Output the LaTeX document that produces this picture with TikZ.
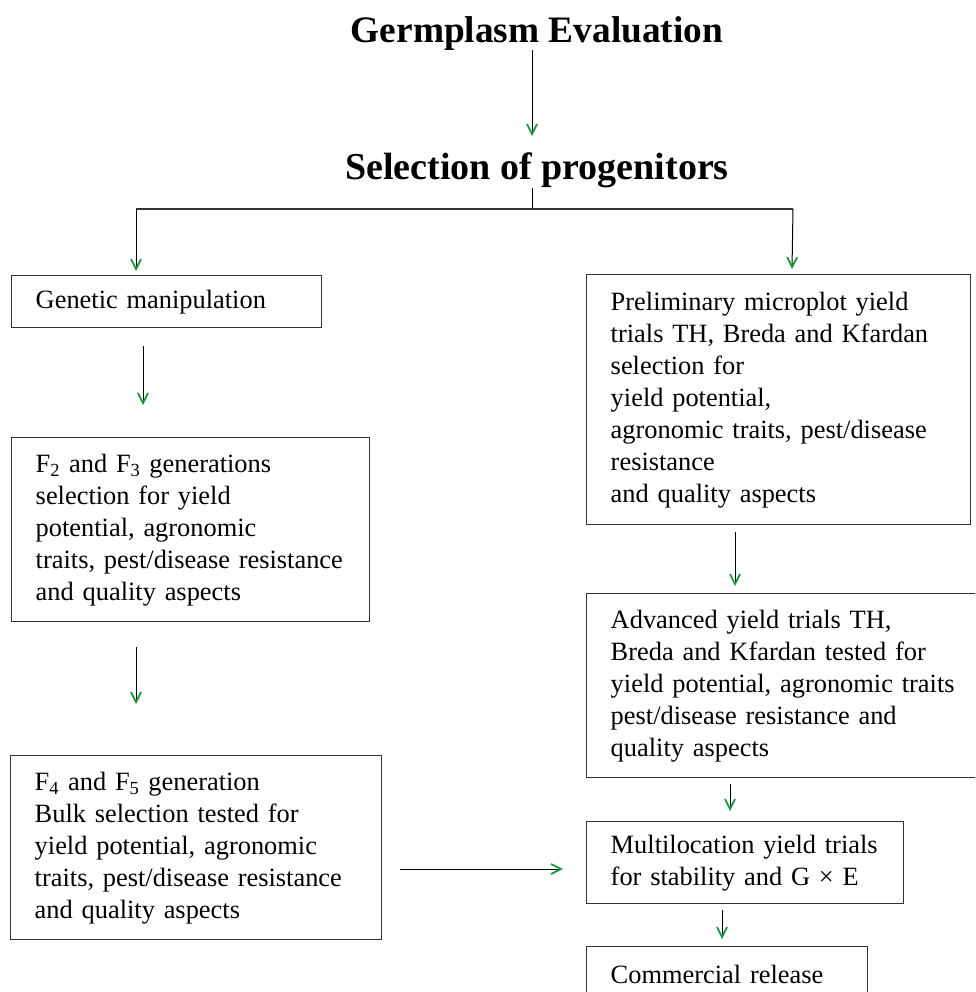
\documentclass[tikz,border=0pt]{standalone}
\usepackage{fontspec}
\setmainfont{Liberation Serif}
\usetikzlibrary{arrows.meta}
\definecolor{tipgreen}{RGB}{20,150,60}
\definecolor{boxgray}{RGB}{50,50,50}
\tikzset{every picture/.style={line width=0.75pt}}
\tikzset{
  box/.style={draw=boxgray, line width=1.1pt, anchor=north west, inner xsep=18pt, inner ysep=0pt, align=left,
    font=\fontsize{19.8}{24}\selectfont, execute at begin node={\hyphenpenalty=10000\exhyphenpenalty=10000}},
  headline/.style={inner sep=0pt, font=\fontsize{28.5}{30}\selectfont\bfseries},
  flow/.style={draw=black, line width=0.75pt, -{Straight Barb[length=7.5pt,width=7.5pt,line width=1.3pt,color=tipgreen]}}
}

\begin{document}
\begin{tikzpicture}[x=0.75pt,y=0.75pt,yscale=-1,xscale=1]
        \clip (0,0) rectangle (975,992);
        % Text Node
        \draw (537,34) node [headline, font=\fontsize{28}{30}\selectfont\bfseries] (germ) {Germplasm Evaluation};
        % Text Node
        \draw (537,170) node [headline] (prog) {Selection of progenitors};

        %Shape: Rectangle
        \draw (11,275) node [box, text width=196.5pt, minimum height=39pt] (gm) {Genetic manipulation};
        %Shape: Rectangle
        \draw (11,437) node [box, text width=232.5pt, minimum height=138pt] (ftwo) {F\textsubscript{2} and F\textsubscript{3} generations\\ selection for yield\\ potential, agronomic\\ traits, pest/disease resistance\\ and quality aspects};
        %Shape: Rectangle
        \draw (10,755) node [box, text width=242.25pt, minimum height=138pt] (ffour) {F\textsubscript{4} and F\textsubscript{5} generation\\ Bulk selection tested for\\ yield potential, agronomic\\ traits, pest/disease resistance\\ and quality aspects};
        %Shape: Rectangle
        \draw (586,274) node [box, text width=252pt, minimum height=187.5pt] (prelim) {Preliminary microplot yield\\ trials TH, Breda and Kfardan\\ selection for\\ yield potential,\\ agronomic traits, pest/disease\\ resistance\\ and quality aspects};
        %Shape: Rectangle
        \draw (586,593) node [box, text width=270pt, minimum height=138pt] (adv) {Advanced yield trials TH,\\ Breda and Kfardan tested for\\ yield potential, agronomic traits\\ pest/disease resistance and\\ quality aspects};
        %Shape: Rectangle
        \draw (586,821) node [box, text width=201.75pt, minimum height=61.5pt] (multi) {Multilocation yield trials\\ for stability and G × E};
        %Shape: Rectangle
        \draw (586,946) node [box, text width=174.75pt, minimum height=42pt] (comm) {Commercial release};

        % arrow ends
        \coordinate (g1) at (532,50);   \coordinate (g2) at (532,136);
        \coordinate (p1) at (532,188);  \coordinate (p2) at (532,209);
        \coordinate (bl) at (136,209);  \coordinate (br) at (793,209);
        \coordinate (l1) at (136,271);  \coordinate (r1) at (792,269);
        \coordinate (m1) at (143,346);  \coordinate (m2) at (143,405);
        \coordinate (f1) at (136,647);  \coordinate (f2) at (136,704);
        \coordinate (h1) at (400,869);  \coordinate (h2) at (563,869);
        \coordinate (q1) at (735,532);  \coordinate (q2) at (735,586);
        \coordinate (s1) at (730,784);  \coordinate (s2) at (730,811);
        \coordinate (t1) at (722,910);  \coordinate (t2) at (722,939);

        %Straight Lines
        \draw [flow] (g1) -- (g2);
        %Straight Lines
        \draw [line width=0.75pt] (p1) -- (p2);
        \draw [draw=boxgray, line width=1.3pt] (bl) -- (br);
        %Straight Lines
        \draw [flow] (bl) -- (l1);
        \draw [flow] (br) -- (r1);
        %Straight Lines
        \draw [flow] (m1) -- (m2);
        \draw [flow] (f1) -- (f2);
        \draw [flow] (h1) -- (h2);
        %Straight Lines
        \draw [flow] (q1) -- (q2);
        \draw [flow] (s1) -- (s2);
        \draw [flow] (t1) -- (t2);
\end{tikzpicture}
\end{document}
